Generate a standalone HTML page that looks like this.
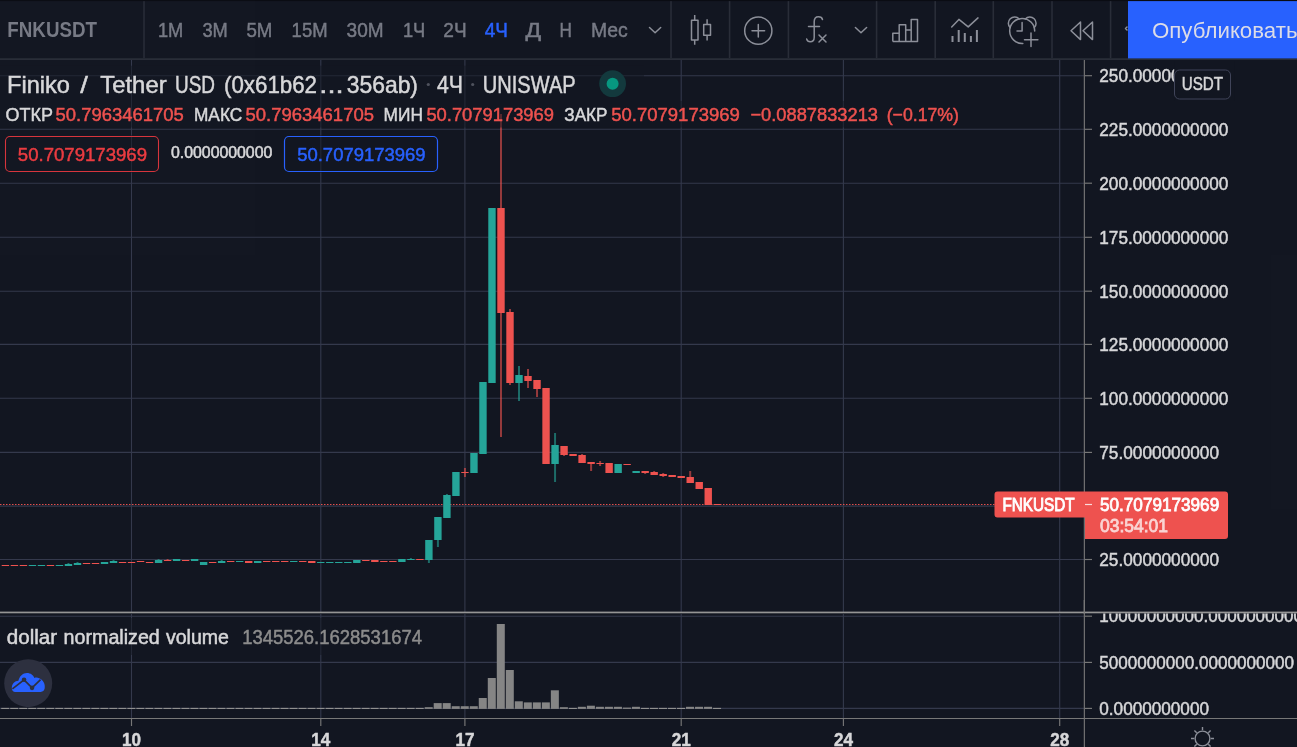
<!DOCTYPE html>
<html lang="ru"><head><meta charset="utf-8"><title>FNKUSDT</title>
<style>
html,body{margin:0;padding:0;background:#131722;width:1297px;height:747px;overflow:hidden}
svg{display:block;font-family:"Liberation Sans",sans-serif;will-change:transform;opacity:.9999}
text{white-space:pre}
</style></head><body>
<svg width="1297" height="747" viewBox="0 0 1297 747">
<rect width="1297" height="747" fill="#131722"/>

<g stroke="#353a4d" stroke-width="1.1" fill="none">
<path d="M131.5 60V612M131.5 614V718"/>
<path d="M320.8 60V612M320.8 614V718"/>
<path d="M464.9 60V612M464.9 614V718"/>
<path d="M681.2 60V612M681.2 614V718"/>
<path d="M843.4 60V612M843.4 614V718"/>
<path d="M1059.7 60V612M1059.7 614V718"/>
<path d="M0 75.7H1085"/>
<path d="M0 129.3H1085"/>
<path d="M0 183.2H1085"/>
<path d="M0 237.3H1085"/>
<path d="M0 291.2H1085"/>
<path d="M0 344.4H1085"/>
<path d="M0 398.3H1085"/>
<path d="M0 452.4H1085"/>
<path d="M0 506.1H1085"/>
<path d="M0 559.5H1085"/>
<path d="M0 616.2H1085"/>
<path d="M0 662.4H1085"/>
<path d="M0 708.4H1085"/>
</g>
<path d="M0 504.5H1085" stroke="#ef5350" stroke-width="1" stroke-dasharray="1.5 1.5" opacity=".95"/>
<g>
<rect x="1.7" y="565" width="7.4" height="1" fill="#ef5350"/>
<rect x="10.71" y="565" width="7.4" height="1" fill="#ef5350"/>
<rect x="19.72" y="565" width="7.4" height="1" fill="#ef5350"/>
<rect x="28.73" y="565" width="7.4" height="1" fill="#26a69a"/>
<rect x="37.74" y="565" width="7.4" height="1" fill="#26a69a"/>
<rect x="46.75" y="565" width="7.4" height="1" fill="#ef5350"/>
<rect x="55.76" y="565" width="7.4" height="1" fill="#26a69a"/>
<rect x="67.47" y="563" width="2" height="3" fill="#26a69a" opacity=".6"/>
<rect x="64.77" y="564" width="7.4" height="2" fill="#26a69a"/>
<rect x="76.49" y="562" width="2" height="3" fill="#26a69a" opacity=".6"/>
<rect x="73.79" y="563" width="7.4" height="2" fill="#26a69a"/>
<rect x="82.8" y="563" width="7.4" height="1" fill="#ef5350"/>
<rect x="91.81" y="563" width="7.4" height="1" fill="#ef5350"/>
<rect x="100.82" y="562" width="7.4" height="2" fill="#26a69a"/>
<rect x="112.53" y="560" width="2" height="3" fill="#26a69a" opacity=".6"/>
<rect x="109.83" y="561" width="7.4" height="2" fill="#26a69a"/>
<rect x="118.84" y="562" width="7.4" height="1" fill="#ef5350"/>
<rect x="127.85" y="562" width="7.4" height="1" fill="#ef5350"/>
<rect x="136.86" y="561" width="7.4" height="1" fill="#ef5350"/>
<rect x="145.87" y="562" width="7.4" height="1" fill="#ef5350"/>
<rect x="157.58" y="559" width="2" height="4" fill="#26a69a" opacity=".6"/>
<rect x="154.88" y="560" width="7.4" height="3" fill="#26a69a"/>
<rect x="166.59" y="559" width="2" height="2" fill="#ef5350" opacity=".6"/>
<rect x="163.89" y="560" width="7.4" height="1" fill="#ef5350"/>
<rect x="172.9" y="559" width="7.4" height="2" fill="#26a69a"/>
<rect x="181.91" y="560" width="7.4" height="1" fill="#ef5350"/>
<rect x="190.92" y="559" width="7.4" height="2" fill="#26a69a"/>
<rect x="199.94" y="562" width="7.4" height="3" fill="#26a69a"/>
<rect x="208.95" y="562" width="7.4" height="1" fill="#ef5350"/>
<rect x="220.66" y="560" width="2" height="3" fill="#26a69a" opacity=".6"/>
<rect x="217.96" y="561" width="7.4" height="2" fill="#26a69a"/>
<rect x="226.97" y="561" width="7.4" height="1" fill="#ef5350"/>
<rect x="235.98" y="561" width="7.4" height="1" fill="#26a69a"/>
<rect x="244.99" y="561" width="7.4" height="2" fill="#ef5350"/>
<rect x="254.0" y="561" width="7.4" height="2" fill="#26a69a"/>
<rect x="263.01" y="561" width="7.4" height="1" fill="#ef5350"/>
<rect x="272.02" y="561" width="7.4" height="1" fill="#ef5350"/>
<rect x="281.03" y="561" width="7.4" height="1" fill="#ef5350"/>
<rect x="290.04" y="561" width="7.4" height="1" fill="#26a69a"/>
<rect x="299.05" y="561" width="7.4" height="1" fill="#ef5350"/>
<rect x="308.06" y="561" width="7.4" height="2" fill="#ef5350"/>
<rect x="317.07" y="562" width="7.4" height="1" fill="#26a69a"/>
<rect x="326.09" y="562" width="7.4" height="1" fill="#26a69a"/>
<rect x="335.1" y="562" width="7.4" height="1" fill="#26a69a"/>
<rect x="344.11" y="562" width="7.4" height="1" fill="#26a69a"/>
<rect x="353.12" y="560" width="7.4" height="3" fill="#26a69a"/>
<rect x="362.13" y="560" width="7.4" height="1" fill="#ef5350"/>
<rect x="371.14" y="560" width="7.4" height="2" fill="#ef5350"/>
<rect x="380.15" y="561" width="7.4" height="1" fill="#ef5350"/>
<rect x="389.16" y="561" width="7.4" height="1" fill="#ef5350"/>
<rect x="398.17" y="559" width="7.4" height="3" fill="#26a69a"/>
<rect x="409.88" y="558" width="2" height="2" fill="#26a69a" opacity=".6"/>
<rect x="407.18" y="559" width="7.4" height="1" fill="#26a69a"/>
<rect x="416.19" y="559" width="7.4" height="1" fill="#ef5350"/>
<rect x="427.9" y="540" width="2" height="23" fill="#26a69a" opacity=".6"/>
<rect x="425.2" y="540" width="7.4" height="20" fill="#26a69a"/>
<rect x="436.91" y="517" width="2" height="30" fill="#26a69a" opacity=".6"/>
<rect x="434.21" y="517" width="7.4" height="23" fill="#26a69a"/>
<rect x="445.92" y="494" width="2" height="24" fill="#26a69a" opacity=".6"/>
<rect x="443.22" y="495" width="7.4" height="23" fill="#26a69a"/>
<rect x="452.23" y="472" width="7.4" height="24" fill="#26a69a"/>
<rect x="463.95" y="468" width="2" height="9" fill="#ef5350" opacity=".6"/>
<rect x="461.25" y="472" width="7.4" height="1" fill="#ef5350"/>
<rect x="470.26" y="453" width="7.4" height="20" fill="#26a69a"/>
<rect x="479.27" y="382" width="7.4" height="72" fill="#26a69a"/>
<rect x="488.28" y="208" width="7.4" height="175" fill="#26a69a"/>
<rect x="499.99" y="114" width="2" height="323" fill="#ef5350" opacity=".6"/>
<rect x="497.29" y="208" width="7.4" height="105" fill="#ef5350"/>
<rect x="509.0" y="309" width="2" height="76" fill="#ef5350" opacity=".6"/>
<rect x="506.3" y="312" width="7.4" height="71" fill="#ef5350"/>
<rect x="518.01" y="366" width="2" height="35" fill="#26a69a" opacity=".6"/>
<rect x="515.31" y="375" width="7.4" height="8" fill="#26a69a"/>
<rect x="527.02" y="369" width="2" height="19" fill="#ef5350" opacity=".6"/>
<rect x="524.32" y="376" width="7.4" height="5" fill="#ef5350"/>
<rect x="536.03" y="380" width="2" height="17" fill="#ef5350" opacity=".6"/>
<rect x="533.33" y="380" width="7.4" height="9" fill="#ef5350"/>
<rect x="542.34" y="388" width="7.4" height="76" fill="#ef5350"/>
<rect x="554.05" y="433" width="2" height="49" fill="#26a69a" opacity=".6"/>
<rect x="551.35" y="445" width="7.4" height="19" fill="#26a69a"/>
<rect x="563.06" y="446" width="2" height="10" fill="#ef5350" opacity=".6"/>
<rect x="560.36" y="446" width="7.4" height="9" fill="#ef5350"/>
<rect x="569.37" y="454" width="7.4" height="2" fill="#ef5350"/>
<rect x="581.08" y="454" width="2" height="9" fill="#ef5350" opacity=".6"/>
<rect x="578.38" y="455" width="7.4" height="8" fill="#ef5350"/>
<rect x="590.1" y="462" width="2" height="9" fill="#ef5350" opacity=".6"/>
<rect x="587.4" y="462" width="7.4" height="2" fill="#ef5350"/>
<rect x="599.11" y="461" width="2" height="5" fill="#ef5350" opacity=".6"/>
<rect x="596.41" y="463" width="7.4" height="1" fill="#ef5350"/>
<rect x="605.42" y="463" width="7.4" height="10" fill="#ef5350"/>
<rect x="614.43" y="464" width="7.4" height="9" fill="#26a69a"/>
<rect x="623.44" y="464" width="7.4" height="1" fill="#ef5350"/>
<rect x="632.45" y="471" width="7.4" height="2" fill="#26a69a"/>
<rect x="644.16" y="471" width="2" height="3" fill="#ef5350" opacity=".6"/>
<rect x="641.46" y="471" width="7.4" height="2" fill="#ef5350"/>
<rect x="653.17" y="471" width="2" height="4" fill="#ef5350" opacity=".6"/>
<rect x="650.47" y="472" width="7.4" height="3" fill="#ef5350"/>
<rect x="662.18" y="473" width="2" height="4" fill="#ef5350" opacity=".6"/>
<rect x="659.48" y="474" width="7.4" height="2" fill="#ef5350"/>
<rect x="668.49" y="475" width="7.4" height="2" fill="#ef5350"/>
<rect x="677.5" y="476" width="7.4" height="2" fill="#ef5350"/>
<rect x="689.21" y="471" width="2" height="12" fill="#ef5350" opacity=".6"/>
<rect x="686.51" y="477" width="7.4" height="6" fill="#ef5350"/>
<rect x="695.52" y="482" width="7.4" height="7" fill="#ef5350"/>
<rect x="704.53" y="488" width="7.4" height="17" fill="#ef5350"/>
<rect x="713.55" y="504" width="7.4" height="1" fill="#ef5350"/>
</g>
<g fill="#868686">
<rect x="1.2" y="707.9" width="8" height="1" fill="#9c9c98"/>
<rect x="10.21" y="707.9" width="8" height="1" fill="#9c9c98"/>
<rect x="19.22" y="707.9" width="8" height="1" fill="#9c9c98"/>
<rect x="28.23" y="707.9" width="8" height="1" fill="#9c9c98"/>
<rect x="37.24" y="707.9" width="8" height="1" fill="#9c9c98"/>
<rect x="46.25" y="707.9" width="8" height="1" fill="#9c9c98"/>
<rect x="55.26" y="707.9" width="8" height="1" fill="#9c9c98"/>
<rect x="64.27" y="707.9" width="8" height="1" fill="#9c9c98"/>
<rect x="73.29" y="707.9" width="8" height="1" fill="#9c9c98"/>
<rect x="82.3" y="707.9" width="8" height="1" fill="#9c9c98"/>
<rect x="91.31" y="707.9" width="8" height="1" fill="#9c9c98"/>
<rect x="100.32" y="707.9" width="8" height="1" fill="#9c9c98"/>
<rect x="109.33" y="707.9" width="8" height="1" fill="#9c9c98"/>
<rect x="118.34" y="707.9" width="8" height="1" fill="#9c9c98"/>
<rect x="127.35" y="707.9" width="8" height="1" fill="#9c9c98"/>
<rect x="136.36" y="707.9" width="8" height="1" fill="#9c9c98"/>
<rect x="145.37" y="707.9" width="8" height="1" fill="#9c9c98"/>
<rect x="154.38" y="707.9" width="8" height="1" fill="#9c9c98"/>
<rect x="163.39" y="707.9" width="8" height="1" fill="#9c9c98"/>
<rect x="172.4" y="707.9" width="8" height="1" fill="#9c9c98"/>
<rect x="181.41" y="707.9" width="8" height="1" fill="#9c9c98"/>
<rect x="190.42" y="707.9" width="8" height="1" fill="#9c9c98"/>
<rect x="199.44" y="707.9" width="8" height="1" fill="#9c9c98"/>
<rect x="208.45" y="707.9" width="8" height="1" fill="#9c9c98"/>
<rect x="217.46" y="707.9" width="8" height="1" fill="#9c9c98"/>
<rect x="226.47" y="707.9" width="8" height="1" fill="#9c9c98"/>
<rect x="235.48" y="707.9" width="8" height="1" fill="#9c9c98"/>
<rect x="244.49" y="707.9" width="8" height="1" fill="#9c9c98"/>
<rect x="253.5" y="707.9" width="8" height="1" fill="#9c9c98"/>
<rect x="262.51" y="707.9" width="8" height="1" fill="#9c9c98"/>
<rect x="271.52" y="707.9" width="8" height="1" fill="#9c9c98"/>
<rect x="280.53" y="707.9" width="8" height="1" fill="#9c9c98"/>
<rect x="289.54" y="707.9" width="8" height="1" fill="#9c9c98"/>
<rect x="298.55" y="707.9" width="8" height="1" fill="#9c9c98"/>
<rect x="307.56" y="707.9" width="8" height="1" fill="#9c9c98"/>
<rect x="316.57" y="707.9" width="8" height="1" fill="#9c9c98"/>
<rect x="325.59" y="707.9" width="8" height="1" fill="#9c9c98"/>
<rect x="334.6" y="707.9" width="8" height="1" fill="#9c9c98"/>
<rect x="343.61" y="707.9" width="8" height="1" fill="#9c9c98"/>
<rect x="352.62" y="707.9" width="8" height="1" fill="#9c9c98"/>
<rect x="361.63" y="707.9" width="8" height="1" fill="#9c9c98"/>
<rect x="370.64" y="707.9" width="8" height="1" fill="#9c9c98"/>
<rect x="379.65" y="707.9" width="8" height="1" fill="#9c9c98"/>
<rect x="388.66" y="707.9" width="8" height="1" fill="#9c9c98"/>
<rect x="397.67" y="707.9" width="8" height="1" fill="#9c9c98"/>
<rect x="406.68" y="707.9" width="8" height="1" fill="#9c9c98"/>
<rect x="415.69" y="707.9" width="8" height="1" fill="#9c9c98"/>
<rect x="424.7" y="707.2" width="8" height="1.7"/>
<rect x="433.71" y="703.1" width="8" height="5.8"/>
<rect x="442.72" y="703.1" width="8" height="5.8"/>
<rect x="451.73" y="706.2" width="8" height="2.7"/>
<rect x="460.75" y="706.2" width="8" height="2.7"/>
<rect x="469.76" y="706.2" width="8" height="2.7"/>
<rect x="478.77" y="698" width="8" height="10.9"/>
<rect x="487.78" y="678" width="8" height="30.9"/>
<rect x="496.79" y="624" width="8" height="84.9"/>
<rect x="505.8" y="670" width="8" height="38.9"/>
<rect x="514.81" y="701.3" width="8" height="7.6"/>
<rect x="523.82" y="702.4" width="8" height="6.5"/>
<rect x="532.83" y="702.4" width="8" height="6.5"/>
<rect x="541.84" y="702.4" width="8" height="6.5"/>
<rect x="550.85" y="690.3" width="8" height="18.6"/>
<rect x="559.86" y="707.2" width="8" height="1.7"/>
<rect x="568.87" y="707.9" width="8" height="1" fill="#9c9c98"/>
<rect x="577.88" y="706.8" width="8" height="2.1"/>
<rect x="586.9" y="705.7" width="8" height="3.2"/>
<rect x="595.91" y="706.8" width="8" height="2.1"/>
<rect x="604.92" y="706.8" width="8" height="2.1"/>
<rect x="613.93" y="706.8" width="8" height="2.1"/>
<rect x="622.94" y="707.6" width="8" height="1.3"/>
<rect x="631.95" y="706.8" width="8" height="2.1"/>
<rect x="640.96" y="707.9" width="8" height="1" fill="#9c9c98"/>
<rect x="649.97" y="707.9" width="8" height="1" fill="#9c9c98"/>
<rect x="658.98" y="707.9" width="8" height="1" fill="#9c9c98"/>
<rect x="667.99" y="707.9" width="8" height="1" fill="#9c9c98"/>
<rect x="677.0" y="707.9" width="8" height="1" fill="#9c9c98"/>
<rect x="686.01" y="706.8" width="8" height="2.1"/>
<rect x="695.02" y="706.8" width="8" height="2.1"/>
<rect x="704.03" y="706.8" width="8" height="2.1"/>
<rect x="713.05" y="707.9" width="8" height="1" fill="#9c9c98"/>
</g>
<g stroke="#787878" stroke-width="1.15" fill="none">
<path d="M1084.35 60V747"/>
<path d="M0 718.5H1297"/>
<path d="M1085 75.7H1092"/>
<path d="M1085 129.3H1092"/>
<path d="M1085 183.2H1092"/>
<path d="M1085 237.3H1092"/>
<path d="M1085 291.2H1092"/>
<path d="M1085 344.4H1092"/>
<path d="M1085 398.3H1092"/>
<path d="M1085 452.4H1092"/>
<path d="M1085 559.5H1092"/>
<path d="M1085 616.2H1092"/>
<path d="M1085 662.4H1092"/>
<path d="M1085 708.4H1092"/>
<path d="M131.5 718V726"/>
<path d="M320.8 718V726"/>
<path d="M464.9 718V726"/>
<path d="M681.2 718V726"/>
<path d="M843.4 718V726"/>
<path d="M1059.7 718V726"/>
</g>
<text x="1099.3" y="82.1" font-size="18" fill="#d8d8da" textLength="129.0" lengthAdjust="spacingAndGlyphs" stroke="#d8d8da" stroke-width="0.5" >250.0000000000</text>
<text x="1099.3" y="135.7" font-size="18" fill="#d8d8da" textLength="129.0" lengthAdjust="spacingAndGlyphs" stroke="#d8d8da" stroke-width="0.5" >225.0000000000</text>
<text x="1099.3" y="189.6" font-size="18" fill="#d8d8da" textLength="129.0" lengthAdjust="spacingAndGlyphs" stroke="#d8d8da" stroke-width="0.5" >200.0000000000</text>
<text x="1099.3" y="243.7" font-size="18" fill="#d8d8da" textLength="129.0" lengthAdjust="spacingAndGlyphs" stroke="#d8d8da" stroke-width="0.5" >175.0000000000</text>
<text x="1099.3" y="297.6" font-size="18" fill="#d8d8da" textLength="129.0" lengthAdjust="spacingAndGlyphs" stroke="#d8d8da" stroke-width="0.5" >150.0000000000</text>
<text x="1099.3" y="350.8" font-size="18" fill="#d8d8da" textLength="129.0" lengthAdjust="spacingAndGlyphs" stroke="#d8d8da" stroke-width="0.5" >125.0000000000</text>
<text x="1099.3" y="404.7" font-size="18" fill="#d8d8da" textLength="129.0" lengthAdjust="spacingAndGlyphs" stroke="#d8d8da" stroke-width="0.5" >100.0000000000</text>
<text x="1099.3" y="458.8" font-size="18" fill="#d8d8da" textLength="119.7" lengthAdjust="spacingAndGlyphs" stroke="#d8d8da" stroke-width="0.5" >75.0000000000</text>
<text x="1099.3" y="565.9" font-size="18" fill="#d8d8da" textLength="119.7" lengthAdjust="spacingAndGlyphs" stroke="#d8d8da" stroke-width="0.5" >25.0000000000</text>
<text x="1099.3" y="621.9" font-size="18" fill="#d8d8da" textLength="203.7" lengthAdjust="spacingAndGlyphs" stroke="#d8d8da" stroke-width="0.5" >10000000000.0000000000</text>
<text x="1099.3" y="668.8" font-size="18" fill="#d8d8da" textLength="194.7" lengthAdjust="spacingAndGlyphs" stroke="#d8d8da" stroke-width="0.5" >5000000000.0000000000</text>
<text x="1099.3" y="714.8" font-size="18" fill="#d8d8da" textLength="109.7" lengthAdjust="spacingAndGlyphs" stroke="#d8d8da" stroke-width="0.5" >0.0000000000</text>
<rect x="1086" y="600" width="211" height="13.4" fill="#131722"/>
<rect x="0" y="611.6" width="1297" height="1.7" fill="#969696"/>
<path d="M1084.35 600V614" stroke="#787878" stroke-width="1.3"/>
<rect x="1174.2" y="61" width="60" height="40" fill="#131722"/>
<rect x="1174.5" y="70" width="56" height="29" rx="5" fill="#131722" stroke="#41455a" stroke-width="1"/>
<text x="1181.7" y="90.4" font-size="17.5" fill="#d8d8da" textLength="41.3" lengthAdjust="spacingAndGlyphs" stroke="#d8d8da" stroke-width="0.5" >USDT</text>
<path d="M997.5 491.5H1225a3 3 0 0 1 3 3V536a3 3 0 0 1-3 3H1085V517.5H997.5a3 3 0 0 1-3-3V494.5a3 3 0 0 1 3-3z" fill="#ef5350"/>
<path d="M1085 504.5H1092" stroke="#fff" stroke-width="1.2" opacity=".8"/>
<text x="1002.4" y="510.8" font-size="17.5" fill="#fff" textLength="72.3" lengthAdjust="spacingAndGlyphs" stroke="#fff" stroke-width="0.9" >FNKUSDT</text>
<text x="1100" y="510.8" font-size="18" fill="#fff" textLength="119.2" lengthAdjust="spacingAndGlyphs" stroke="#fff" stroke-width="0.8" >50.7079173969</text>
<text x="1100" y="531.8" font-size="18" fill="#fbd5d4" textLength="68" lengthAdjust="spacingAndGlyphs" stroke="#fbd5d4" stroke-width="0.8" >03:54:01</text>
<text x="122.0" y="746" font-size="18" fill="#d8d8da" textLength="19.0" lengthAdjust="spacingAndGlyphs" font-weight="bold" stroke="#d8d8da" stroke-width="0.5" >10</text>
<text x="311.3" y="746" font-size="18" fill="#d8d8da" textLength="19.0" lengthAdjust="spacingAndGlyphs" font-weight="bold" stroke="#d8d8da" stroke-width="0.5" >14</text>
<text x="455.4" y="746" font-size="18" fill="#d8d8da" textLength="19.0" lengthAdjust="spacingAndGlyphs" font-weight="bold" stroke="#d8d8da" stroke-width="0.5" >17</text>
<text x="671.7" y="746" font-size="18" fill="#d8d8da" textLength="19.0" lengthAdjust="spacingAndGlyphs" font-weight="bold" stroke="#d8d8da" stroke-width="0.5" >21</text>
<text x="833.9" y="746" font-size="18" fill="#d8d8da" textLength="19.0" lengthAdjust="spacingAndGlyphs" font-weight="bold" stroke="#d8d8da" stroke-width="0.5" >24</text>
<text x="1050.2" y="746" font-size="18" fill="#d8d8da" textLength="19.0" lengthAdjust="spacingAndGlyphs" font-weight="bold" stroke="#d8d8da" stroke-width="0.5" >28</text>
<g stroke="#8d909a" stroke-width="1.4" fill="none"><circle cx="1202.5" cy="738.5" r="7.4"/><path d="M1202.5 727v3.200M1191 738.500h3.200M1214 738.500h-3.200M1194.400 730.400l2.300 2.300M1210.600 730.400l-2.300 2.300M1194.400 746.600l2.300-2.300M1210.600 746.600l-2.300-2.300"/></g>
<rect x="0" y="65.7" width="644" height="35.3" fill="#131722" opacity=".5"/>
<rect x="0" y="101" width="964" height="26.5" fill="#131722" opacity=".5"/>
<rect x="0" y="135" width="441" height="38" fill="#131722" opacity=".5"/>
<rect x="0" y="618" width="428" height="37" fill="#131722" opacity=".5"/>
<text x="7.1" y="93" font-size="24" fill="#d8d8da" textLength="62.9" lengthAdjust="spacingAndGlyphs" stroke="#d8d8da" stroke-width="0.5" >Finiko</text>
<text x="80.2" y="93" font-size="24" fill="#d8d8da" textLength="7.6" lengthAdjust="spacingAndGlyphs" stroke="#d8d8da" stroke-width="0.5" >/</text>
<text x="100.3" y="93" font-size="24" fill="#d8d8da" textLength="66.3" lengthAdjust="spacingAndGlyphs" stroke="#d8d8da" stroke-width="0.5" >Tether</text>
<text x="175" y="93" font-size="24" fill="#d8d8da" textLength="40" lengthAdjust="spacingAndGlyphs" stroke="#d8d8da" stroke-width="0.5" >USD</text>
<text x="224" y="93" font-size="24" fill="#d8d8da" textLength="93" lengthAdjust="spacingAndGlyphs" stroke="#d8d8da" stroke-width="0.5" >(0x61b62</text>
<text x="319.3" y="93" font-size="24" fill="#d8d8da" textLength="24.3" lengthAdjust="spacingAndGlyphs" stroke="#d8d8da" stroke-width="0.5" >...</text>
<text x="346.7" y="93" font-size="24" fill="#d8d8da" textLength="71.3" lengthAdjust="spacingAndGlyphs" stroke="#d8d8da" stroke-width="0.5" >356ab)</text>
<circle cx="428.3" cy="84.5" r="1.6" fill="#50535e"/><circle cx="472.7" cy="84.5" r="1.6" fill="#50535e"/>
<text x="437" y="93" font-size="24" fill="#d8d8da" textLength="26" lengthAdjust="spacingAndGlyphs" stroke="#d8d8da" stroke-width="0.5" >4Ч</text>
<text x="482.8" y="93" font-size="24" fill="#d8d8da" textLength="92.9" lengthAdjust="spacingAndGlyphs" stroke="#d8d8da" stroke-width="0.5" >UNISWAP</text>
<circle cx="612.6" cy="83.7" r="13.4" fill="#143a3e"/><circle cx="612.6" cy="83.7" r="6" fill="#089981"/>
<text x="5.5" y="120.7" font-size="19" fill="#d8d8da" textLength="47.4" lengthAdjust="spacingAndGlyphs" stroke="#d8d8da" stroke-width="0.5" >ОТКР</text>
<text x="55.5" y="120.7" font-size="19" fill="#ef5350" textLength="128.2" lengthAdjust="spacingAndGlyphs" stroke="#ef5350" stroke-width="0.5" >50.7963461705</text>
<text x="194" y="120.7" font-size="19" fill="#d8d8da" textLength="48.2" lengthAdjust="spacingAndGlyphs" stroke="#d8d8da" stroke-width="0.5" >МАКС</text>
<text x="245.5" y="120.7" font-size="19" fill="#ef5350" textLength="128.5" lengthAdjust="spacingAndGlyphs" stroke="#ef5350" stroke-width="0.5" >50.7963461705</text>
<text x="383.6" y="120.7" font-size="19" fill="#d8d8da" textLength="39.4" lengthAdjust="spacingAndGlyphs" stroke="#d8d8da" stroke-width="0.5" >МИН</text>
<text x="426.4" y="120.7" font-size="19" fill="#ef5350" textLength="127.6" lengthAdjust="spacingAndGlyphs" stroke="#ef5350" stroke-width="0.5" >50.7079173969</text>
<text x="564.3" y="120.7" font-size="19" fill="#d8d8da" textLength="43.2" lengthAdjust="spacingAndGlyphs" stroke="#d8d8da" stroke-width="0.5" >ЗАКР</text>
<text x="611.3" y="120.7" font-size="19" fill="#ef5350" textLength="128.5" lengthAdjust="spacingAndGlyphs" stroke="#ef5350" stroke-width="0.5" >50.7079173969</text>
<text x="750.4" y="120.7" font-size="19" fill="#ef5350" textLength="127.6" lengthAdjust="spacingAndGlyphs" stroke="#ef5350" stroke-width="0.5" >−0.0887833213</text>
<text x="886.7" y="120.7" font-size="19" fill="#ef5350" textLength="72.3" lengthAdjust="spacingAndGlyphs" stroke="#ef5350" stroke-width="0.5" >(−0.17%)</text>
<rect x="5.5" y="136.5" width="153" height="35" rx="4.5" fill="none" stroke="#d8363e" stroke-width="1.1"/>
<text x="17.8" y="160.6" font-size="19" fill="#ec3d42" textLength="129.2" lengthAdjust="spacingAndGlyphs" stroke="#ec3d42" stroke-width="0.5" >50.7079173969</text>
<text x="171" y="157.9" font-size="16" fill="#d8d8da" textLength="101.3" lengthAdjust="spacingAndGlyphs" stroke="#d8d8da" stroke-width="0.55" >0.0000000000</text>
<rect x="284.5" y="136.5" width="153" height="35" rx="4.5" fill="none" stroke="#2962ff" stroke-width="1.2"/>
<text x="297.2" y="160.6" font-size="19" fill="#2962ff" textLength="128.4" lengthAdjust="spacingAndGlyphs" stroke="#2962ff" stroke-width="0.5" >50.7079173969</text>
<text x="6.8" y="643.6" font-size="19.5" fill="#d8d8da" textLength="50.3" lengthAdjust="spacingAndGlyphs" stroke="#d8d8da" stroke-width="0.5" >dollar</text>
<text x="63.6" y="643.6" font-size="19.5" fill="#d8d8da" textLength="96.2" lengthAdjust="spacingAndGlyphs" stroke="#d8d8da" stroke-width="0.5" >normalized</text>
<text x="165.9" y="643.6" font-size="19.5" fill="#d8d8da" textLength="63.1" lengthAdjust="spacingAndGlyphs" stroke="#d8d8da" stroke-width="0.5" >volume</text>
<text x="242.2" y="643.7" font-size="19.5" fill="#8d8d8d" textLength="179.8" lengthAdjust="spacingAndGlyphs" stroke="#8d8d8d" stroke-width="0.5" >1345526.1628531674</text>
<circle cx="28.2" cy="683.2" r="24" fill="#2e3140"/>
<path d="M14.900 692c-2.300-0.300-3.200-2.200-3.100-4.300c0.200-4 3-6.700 6.600-6.900c1-4.800 4.500-7.900 8.500-7.900c3.800 0 6.500 2.300 7.500 5c1.700-0.500 3.500-0.300 4.800 0.400c4.300 1.700 6.200 6.200 5.500 10c-0.400 2.300-2 3.500-4 3.700z" fill="#2962ff"/>
<path d="M12.400 688.800l11.650-9l8 8.050l8.500-8.200" stroke="#2e3140" stroke-width="1.700" fill="none"/><circle cx="24.050" cy="679.800" r="2.300" fill="#2e3140"/><circle cx="32.050" cy="687.850" r="2.300" fill="#2e3140"/>
<rect x="0" y="0" width="1297" height="58.5" fill="#131722"/>
<rect x="0" y="58.2" width="1297" height="1.8" fill="#2a2e39"/>
<g stroke="#2a2e39" stroke-width="1.6">
<path d="M144 1V58"/>
<path d="M671 1V58"/>
<path d="M729.6 1V58"/>
<path d="M788.4 1V58"/>
<path d="M876.6 1V58"/>
<path d="M935.2 1V58"/>
<path d="M993.3 1V58"/>
<path d="M1052 1V58"/>
<path d="M1110.6 1V58"/>
</g>
<text x="7.3" y="37.099999999999994" font-size="21.5" fill="#787b86" textLength="89.7" lengthAdjust="spacingAndGlyphs" font-weight="bold" >FNKUSDT</text>
<text x="157.9" y="37.099999999999994" font-size="21" fill="#787b86" textLength="25.4" lengthAdjust="spacingAndGlyphs" stroke="#787b86" stroke-width="0.5" >1М</text>
<text x="202.4" y="37.099999999999994" font-size="21" fill="#787b86" textLength="25.4" lengthAdjust="spacingAndGlyphs" stroke="#787b86" stroke-width="0.5" >3М</text>
<text x="246.4" y="37.099999999999994" font-size="21" fill="#787b86" textLength="26.0" lengthAdjust="spacingAndGlyphs" stroke="#787b86" stroke-width="0.5" >5М</text>
<text x="291.6" y="37.099999999999994" font-size="21" fill="#787b86" textLength="36.0" lengthAdjust="spacingAndGlyphs" stroke="#787b86" stroke-width="0.5" >15М</text>
<text x="346.6" y="37.099999999999994" font-size="21" fill="#787b86" textLength="37.0" lengthAdjust="spacingAndGlyphs" stroke="#787b86" stroke-width="0.5" >30М</text>
<text x="402.90000000000003" y="37.099999999999994" font-size="21" fill="#787b86" textLength="22.4" lengthAdjust="spacingAndGlyphs" stroke="#787b86" stroke-width="0.5" >1Ч</text>
<text x="443.3" y="37.099999999999994" font-size="21" fill="#787b86" textLength="23.3" lengthAdjust="spacingAndGlyphs" stroke="#787b86" stroke-width="0.5" >2Ч</text>
<text x="525.6" y="37.099999999999994" font-size="21" fill="#787b86" textLength="15.7" lengthAdjust="spacingAndGlyphs" stroke="#787b86" stroke-width="0.5" >Д</text>
<text x="559.4" y="37.099999999999994" font-size="21" fill="#787b86" textLength="12.4" lengthAdjust="spacingAndGlyphs" stroke="#787b86" stroke-width="0.5" >Н</text>
<text x="590.9" y="37.099999999999994" font-size="21" fill="#787b86" textLength="36.9" lengthAdjust="spacingAndGlyphs" stroke="#787b86" stroke-width="0.5" >Мес</text>
<text x="484.8" y="37.099999999999994" font-size="21" fill="#2962ff" textLength="23.2" lengthAdjust="spacingAndGlyphs" stroke="#2962ff" stroke-width="0.5" >4Ч</text>
<g stroke="#8d909a" stroke-width="1.5" fill="none" stroke-linecap="round" stroke-linejoin="round">
<path d="M649.500 27.500l5.600 5.200l5.600-5.200"/><path d="M855.400 27.500l5.600 5.200l5.600-5.200"/>
<path d="M694.700 15v5.300M694.700 39.900v4.800M691.500 20.300h6.500v19.600h-6.500zM707.100 19.300v5.200M707.100 35.300v5.200M703.700 24.500h6.800v10.800h-6.800z" stroke-linecap="butt"/>
<circle cx="758.3" cy="30.7" r="13.600"/><path d="M752 30.700h12.600M758.300 24.400v12.600"/>
<path d="M822.500 19.500c-0.500-2-2-2.700-4-2.700c-3 0-4.300 2-4.300 5v15.500c0 3-1.500 4.500-4 4.500c-1.500 0-3-0.800-3.500-2.700M808.500 26.500h11"/>
<path d="M819 35l7 7M826 35l-7 7" stroke-width="1.500"/>
<path d="M892.800 41.500v-8.200h6.400v8.200M899.200 33.300v-8.500h6.500v16.700M905.700 30h5.500M911.200 41.500v-22h6.300v22zM892.800 41.500h24.700" stroke-linecap="butt"/>
<path d="M951.700 27l7.200-7.600l9.300 7.500l9.800-9"/><path d="M952.500 36v6M958.700 30v12M964.800 33v9M970.900 36v6M976.900 30v12" stroke-linecap="butt" stroke-width="2"/>
<path d="M1034.700 30.900A12.500 12.500 0 1 0 1022.800 43.400"/><path d="M1022.100 22.400V31H1017"/><path d="M1010.100 27.600A5.900 5.900 0 1 1 1019.100 18.900M1034.300 27.600A5.900 5.900 0 1 0 1025.300 18.900"/><path d="M1031 33.100V46.500M1024.500 39.800H1037.900"/>
<path d="M1080.500 22v17.600l-9.500-8.800zM1092.500 22v17.600l-9.500-8.800z"/>
<path d="M1127 27l-1.500 1.500l1.500 1.500"/>
</g>
<rect x="1128" y="0" width="170" height="58.400" fill="#2962ff"/>
<rect x="0" y="0" width="1297" height="1.1" fill="#0b0d14"/>
<text x="1152" y="37.5" font-size="22" fill="#dddde8" textLength="145.5" lengthAdjust="spacingAndGlyphs" >Опубликовать</text>
</svg></body></html>
